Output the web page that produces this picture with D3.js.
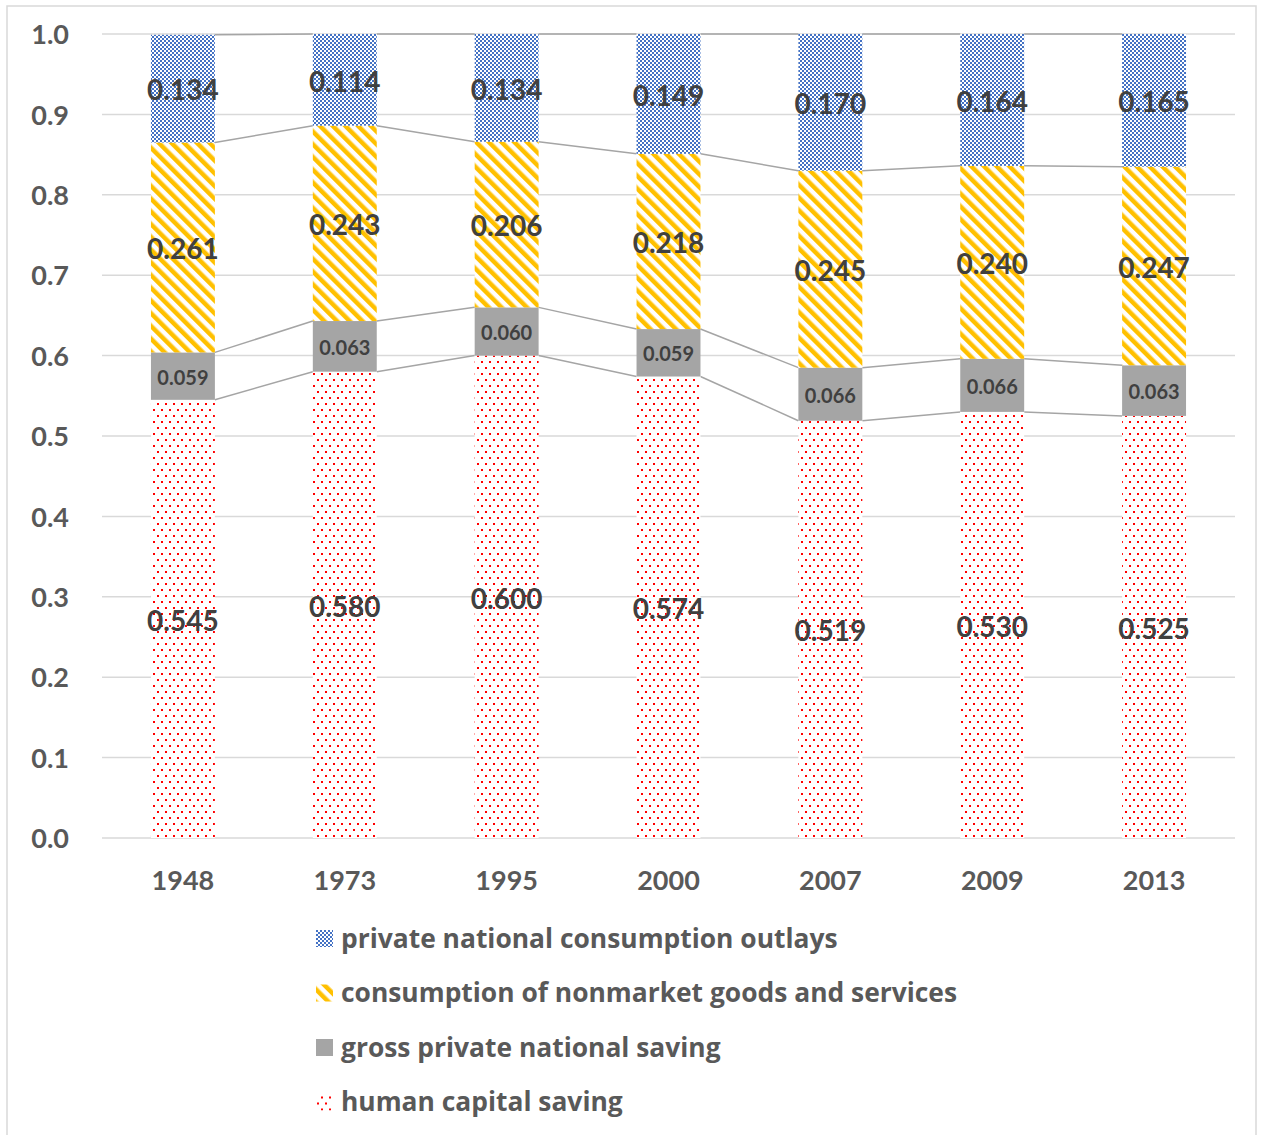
<!DOCTYPE html>
<html>
<head>
<meta charset="utf-8">
<script src="https://cdn.jsdelivr.net/npm/d3@7"></script>
<style>
  body { margin: 0; background: #fff; }
  svg text { font-family: Lato, "Open Sans", sans-serif; font-weight: bold; }
</style>
</head>
<body>
<div id="chart"></div>
<script>
// data
var years = ['1948', '1973', '1995', '2000', '2007', '2009', '2013'];
var humanCapital = [0.545, 0.580, 0.600, 0.574, 0.519, 0.530, 0.525];
var grossSaving = [0.059, 0.063, 0.060, 0.059, 0.066, 0.066, 0.063];
var nonmarket = [0.261, 0.243, 0.206, 0.218, 0.245, 0.240, 0.247];
var privateOutlays = [0.134, 0.114, 0.134, 0.149, 0.170, 0.164, 0.165];
var seriesNames = ['human capital saving', 'gross private national saving',
	'consumption of nonmarket goods and services', 'private national consumption outlays'];
var yTicks = [0, 0.1, 0.2, 0.3, 0.4, 0.5, 0.6, 0.7, 0.8, 0.9, 1.0];

var width = 1262, height = 1135;
var plot = {left: 102, right: 1235, top: 34, bottom: 838};

var svg = d3.select('#chart').append('svg')
	.attr('width', width)
	.attr('height', height);

// patterns
var defs = svg.append('defs');
var pBlue = defs.append('pattern').attr('id', 'pBlue')
	.attr('width', 4).attr('height', 4).attr('patternUnits', 'userSpaceOnUse');
pBlue.append('rect').attr('width', 4).attr('height', 4).attr('fill', '#fff');
pBlue.append('rect').attr('width', 2).attr('height', 2).attr('fill', '#4472c4');
pBlue.append('rect').attr('x', 2).attr('y', 2).attr('width', 2).attr('height', 2).attr('fill', '#4472c4');

var pYellow = defs.append('pattern').attr('id', 'pYellow')
	.attr('width', 9).attr('height', 9).attr('patternUnits', 'userSpaceOnUse')
	.attr('patternTransform', 'rotate(-45)');
pYellow.append('rect').attr('width', 9).attr('height', 9).attr('fill', '#fff');
pYellow.append('rect').attr('width', 4.5).attr('height', 9).attr('fill', '#ffc000');

var pRed = defs.append('pattern').attr('id', 'pRed')
	.attr('width', 8).attr('height', 12).attr('patternUnits', 'userSpaceOnUse');
pRed.append('rect').attr('width', 8).attr('height', 12).attr('fill', '#fff');
pRed.append('rect').attr('x', 1).attr('y', 1).attr('width', 2).attr('height', 2).attr('fill', '#ff0000');
pRed.append('rect').attr('x', 5).attr('y', 7).attr('width', 2).attr('height', 2).attr('fill', '#ff0000');

var fills = ['url(#pRed)', '#a5a5a5', 'url(#pYellow)', 'url(#pBlue)'];
var legendFills = fills.slice();

// outer border
svg.append('rect')
	.attr('x', 7).attr('y', 6)
	.attr('width', 1249).attr('height', 1140)
	.attr('fill', 'none')
	.attr('stroke', '#d9d9d9')
	.attr('stroke-width', 1.5);

// scales
var x = d3.scaleBand().domain(years).range([plot.left, plot.right]).paddingInner(0.605).paddingOuter(0.3025);
var y = d3.scaleLinear().domain([0, 1]).range([plot.bottom, plot.top]);

// gridlines
svg.append('g').selectAll('line')
	.data(yTicks)
	.enter()
	.append('line')
	.attr('x1', plot.left).attr('x2', plot.right)
	.attr('y1', function(d) { return y(d); })
	.attr('y2', function(d) { return y(d); })
	.attr('stroke', '#d9d9d9')
	.attr('stroke-width', 1.5);

// y axis
var yAxis = svg.append('g')
	.attr('transform', 'translate(' + (plot.left - 30) + ',0)')
	.call(d3.axisLeft(y).tickValues(yTicks).tickFormat(d3.format('.1f')).tickSize(0));
yAxis.select('.domain').remove();
yAxis.selectAll('text')
	.attr('fill', '#595959')
	.style('font-size', '27px')
	.attr('dy', '0.36em');

// x axis
var xAxis = svg.append('g')
	.attr('transform', 'translate(0,' + plot.bottom + ')')
	.call(d3.axisBottom(x).tickSize(0));
xAxis.select('.domain').remove();
xAxis.selectAll('text')
	.attr('fill', '#595959')
	.style('font-size', '27px')
	.attr('y', 52)
	.attr('dy', '0');

// stack
var rows = years.map(function(yr, i) {
	return {year: yr, s0: humanCapital[i], s1: grossSaving[i], s2: nonmarket[i], s3: privateOutlays[i]};
});
var stack = d3.stack().keys(['s0', 's1', 's2', 's3']);
var layers = stack(rows);

// series lines
layers.forEach(function(layer) {
	var segs = [];
	for (var i = 0; i < layer.length - 1; i++) {
		segs.push({a: layer[i], b: layer[i + 1], ya: years[i], yb: years[i + 1]});
	}
	svg.append('g').selectAll('line')
		.data(segs)
		.enter()
		.append('line')
		.attr('x1', function(d) { return x(d.ya) + x.bandwidth(); })
		.attr('x2', function(d) { return x(d.yb); })
		.attr('y1', function(d) { return y(d.a[1]); })
		.attr('y2', function(d) { return y(d.b[1]); })
		.attr('stroke', '#a5a5a5')
		.attr('stroke-width', 1.5);
});

// bars
var groups = svg.append('g').selectAll('g')
	.data(layers)
	.enter()
	.append('g')
	.attr('fill', function(d, i) { return fills[i]; });
groups.selectAll('rect')
	.data(function(d) { return d; })
	.enter()
	.append('rect')
	.attr('x', function(d) { return x(d.data.year); })
	.attr('width', x.bandwidth())
	.attr('y', function(d) { return y(d[1]); })
	.attr('height', function(d) { return y(d[0]) - y(d[1]); });

// labels
layers.forEach(function(layer, k) {
	svg.append('g').selectAll('text')
		.data(layer)
		.enter()
		.append('text')
		.attr('x', function(d) { return x(d.data.year) + x.bandwidth() / 2; })
		.attr('y', function(d) { return (y(d[0]) + y(d[1])) / 2; })
		.attr('dy', '0.42em')
		.attr('text-anchor', 'middle')
		.attr('fill', '#404040')
		.style('font-size', k === 1 ? '20px' : '28px')
		.text(function(d) { return d3.format('.3f')(d[1] - d[0]); });
});

// legend
var legendOrder = [3, 2, 1, 0];
var legend = svg.append('g').selectAll('g')
	.data(legendOrder)
	.enter()
	.append('g')
	.attr('transform', function(d, i) { return 'translate(316,' + (938 + i * 54.5) + ')'; });
legend.append('rect')
	.attr('x', 0).attr('y', -8)
	.attr('width', 17).attr('height', 17)
	.attr('fill', function(d) { return legendFills[d]; });
legend.append('text')
	.attr('x', 25)
	.attr('dy', '0.36em')
	.attr('fill', '#595959')
	.style('font-family', '"Open Sans", Lato, sans-serif')
	.style('font-size', '26.4px')
	.text(function(d) { return seriesNames[d]; });
</script>
</body>
</html>
